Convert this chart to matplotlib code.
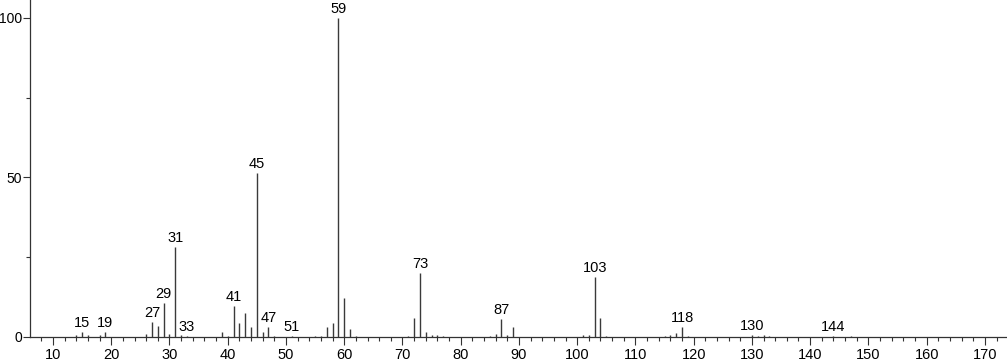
import numpy as np
import matplotlib
matplotlib.use("Agg")
import matplotlib.pyplot as plt
from matplotlib.ticker import MultipleLocator

plt.rcParams['font.family'] = ['Liberation Sans', 'DejaVu Sans']

# --- dados do espectro (m/z, intensidade relativa %) ---
mz = [14, 15, 16, 18, 19, 26, 27, 28, 29, 30, 31, 32, 33,
      39, 40, 41, 42, 43, 44, 45, 46, 47, 48, 51,
      55, 56, 57, 58, 59, 60, 61, 62,
      71, 72, 73, 74, 75, 76, 77,
      85, 86, 87, 88, 89,
      101, 102, 103, 104, 105,
      115, 116, 117, 118, 119,
      130, 131, 132, 133, 144, 147]
intensity = [0.5, 1.6, 0.5, 0.7, 1.5, 1.0, 4.8, 3.5, 10.7, 0.8, 28.2, 0.5, 0.3,
             1.5, 0.3, 9.7, 4.5, 7.5, 3.0, 51.4, 1.5, 3.1, 0.3, 0.3,
             0.2, 0.3, 3.0, 4.5, 100.0, 12.2, 2.5, 0.3,
             0.3, 6.0, 20.0, 1.5, 0.7, 0.5, 0.3,
             0.3, 0.8, 5.6, 0.5, 3.0,
             0.7, 0.5, 18.8, 6.0, 0.3,
             0.3, 0.5, 1.3, 3.2, 0.3,
             0.5, 0.3, 0.5, 0.3, 0.3, 0.3]

# picos com etiqueta
labeled = [15, 19, 27, 29, 31, 33, 41, 45, 47, 51, 59, 73, 87, 103, 118, 130, 144]

fig = plt.figure(figsize=(10.07, 3.62), dpi=100)
ax = fig.add_axes([30 / 1007, 25 / 362, 977 / 1007, 337 / 362])

ax.vlines(mz, 0, intensity, colors='#3a3a3a', linewidth=1.0)

lookup = dict(zip(mz, intensity))
for m in labeled:
    ax.annotate(str(m), (m, lookup[m]), xytext=(0, 1.5), textcoords='offset points',
                ha='center', va='bottom', fontsize=10.5, color='black')

ax.set_xlim(6.05, 173.8)
ax.set_ylim(0, 105.6)

ax.xaxis.set_major_locator(MultipleLocator(10))
ax.xaxis.set_minor_locator(MultipleLocator(2))
ax.yaxis.set_major_locator(MultipleLocator(50))
ax.yaxis.set_minor_locator(MultipleLocator(25))

ax.tick_params(axis='x', which='major', length=6, width=0.8, labelsize=10.5, pad=2, color='#333333')
ax.tick_params(axis='x', which='minor', length=3, width=0.8, color='#333333')
ax.tick_params(axis='y', which='major', length=5, width=0.8, labelsize=10, pad=0.8, color='#333333')
ax.tick_params(axis='y', which='minor', length=3, width=0.8, color='#333333')

for side in ['top', 'right']:
    ax.spines[side].set_visible(False)
for side in ['left', 'bottom']:
    ax.spines[side].set_color('#333333')
    ax.spines[side].set_linewidth(0.9)

fig.savefig("out.png", dpi=100)
